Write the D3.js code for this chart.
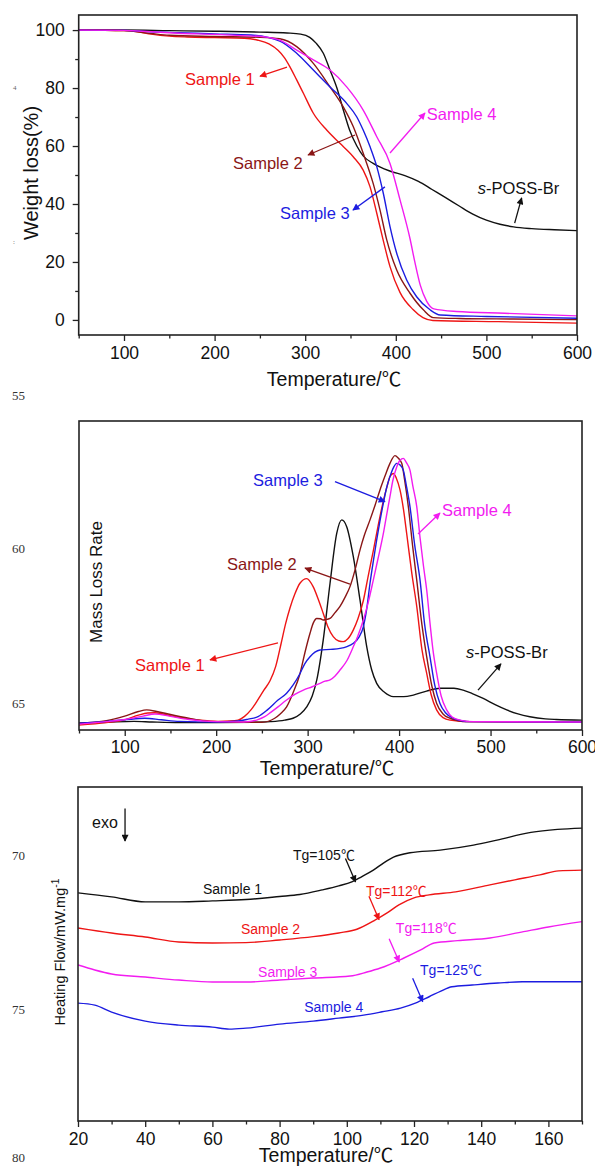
<!DOCTYPE html>
<html>
<head>
<meta charset="utf-8">
<script src="https://cdn.jsdelivr.net/npm/d3@7"></script>
<style>
  html, body { margin: 0; padding: 0; background: #fff; }
  svg { display: block; }
</style>
</head>
<body>
<svg id="fig" width="595" height="1166"></svg>
<script>
// ---------------- TGA: residual weight (%) vs temperature (°C) ----------------
const tgaPOSS = [[50,100],[100,100],[150,99.8],[200,99.6],[250,99.3],[280,99],[295,98.6],[305,97.5],[312,95.5],[320,92],[327,86.5],[335,80],[342,72.5],[349,65.5],[357,60],[364,56.6],[375,54],[394,51.3],[410,49.8],[425,47.8],[440,45],[455,42.2],[470,39.3],[485,36.5],[500,34.4],[515,33],[530,32.1],[550,31.5],[575,31.1],[600,30.8]];
const tgaS1 = [[50,100],[100,99.8],[115,99.4],[130,98.6],[150,97.9],[170,97.6],[200,97.4],[233,97.2],[248,96.5],[260,95.2],[270,93],[277,90.5],[283,87.4],[290.6,82.8],[298,78.2],[309,71.3],[323.7,65.5],[338,61],[353,56.3],[364,51.7],[371.5,46],[379,36.8],[386,27.6],[393.6,18.4],[404.6,9.5],[419,3.6],[430,0.8],[441,-0.2],[513,-0.6],[600,-1.1]];
const tgaS2 = [[50,100],[100,99.8],[130,98.8],[150,98.2],[200,97.8],[250,97.5],[272,97],[290.6,94.3],[309,88.5],[327.4,80.4],[342,73.5],[353,66.7],[364,57.5],[375,47.1],[382.6,37.9],[390,27.6],[401,17.2],[415.7,9.2],[430.4,3.5],[441.4,0.8],[470,0.5],[530,0.3],[600,0.1]];
const tgaS3 = [[50,100],[100,99.9],[130,99.4],[160,99.1],[200,98.7],[240,98.3],[272,96.2],[290.6,92],[309,86.2],[327.4,80.4],[345.8,74.7],[356.8,70.1],[364,65.5],[371.5,59.8],[379,52.9],[386.2,43.7],[393.6,32.2],[401,23],[412,13.8],[423,8],[437.8,3.5],[449,1.7],[500,1.2],[600,0.6]];
const tgaS4 = [[50,100],[100,99.9],[130,99.4],[160,98.9],[200,98.5],[230,98.1],[254,97.7],[272,96.5],[290.6,93.1],[309,89.7],[327.4,86.2],[345.8,80.4],[364,72.4],[379,63.2],[393.6,54],[404.6,41.5],[415.7,28],[421,20],[427,12],[434,6.5],[442,3.8],[467,2.9],[520,2.3],[600,1.4]];
const tgaXTicks = [100,200,300,400,500,600];
const tgaXMinor = [50,150,250,350,450,550];
const tgaYTicks = [0,20,40,60,80,100];
const tgaYMinor = [10,30,50,70,90];

// ---------------- DTG: mass loss rate (a.u.) vs temperature (°C) ----------------
const dtgPOSS = [[50,2.2],[80,2.5],[110,2.8],[130,2.6],[160,2.4],[200,2.4],[240,2.5],[259,2.7],[275,3.2],[284,3.8],[292,5.2],[299,7.5],[305,11],[310,16.2],[317,29],[324.5,47.5],[331.8,63.6],[337.3,68],[342.7,65.8],[350,56],[357.3,42],[364.6,27],[370,19.5],[375.5,15.1],[384,12.2],[393.7,10.8],[405,10.8],[415.6,11.3],[430,12.6],[445,13.5],[460,13.5],[470,12.9],[480,11.8],[492,10.2],[505,8.2],[517.7,6.5],[530,5.2],[543,4.3],[560,3.6],[572,3.4],[600,3.2]];
const dtgS1 = [[50,1.6],[80,2.4],[100,3.3],[115,4.8],[125,5.5],[133,5.6],[150,4.6],[170,3.6],[190,3],[202,2.8],[215,2.9],[224,3.2],[231,4.4],[238,6.5],[245,9.5],[252,12.8],[259,16],[265,20.5],[271,28],[276,34.5],[280.7,39.5],[286,44],[291.6,47.5],[299,49],[306,46.4],[312,42],[317,37.8],[322,33.5],[328,30.2],[334,28.8],[339,28.6],[344,29.5],[350,32.4],[355,36],[361,42],[366,49.5],[372,58.3],[377,66],[383,74.4],[387,79],[390,82],[393.7,83],[397,81.5],[401,77.7],[405,71],[408.3,63.6],[414,50.5],[419.3,40],[425,26],[430.2,18.3],[435,11.5],[441,6.5],[448,4],[455.7,3.2],[477.5,2.7],[600,2.6]];
const dtgS2 = [[50,2.2],[80,3],[100,4.5],[115,6],[124,6.5],[135,6],[150,5],[170,3.8],[194,2.7],[220,2.5],[250,2.5],[264,3.8],[270,5.2],[277,7.5],[284,12],[291.7,18.3],[297,25],[302.6,31.3],[306,34.5],[310,36.1],[314,36],[317.1,35.6],[321,35.8],[324.5,36.1],[330,38],[335.4,40],[341,43],[346.3,46.4],[352,52],[357.3,58.3],[362,63],[368.2,68],[374,73],[379.1,77.7],[385,82.5],[390,86.3],[395.5,88.8],[399,88],[402.9,86.3],[406,81],[410.1,72.3],[415,59],[419.3,48.5],[425,34],[430.2,23.7],[436,14],[441.1,8.6],[448,5.2],[455.7,3.8],[465,3],[473.9,2.7],[600,2.6]];
const dtgS3 = [[50,2.2],[80,2.8],[100,3.3],[122,3.8],[140,3.3],[160,2.8],[200,2.6],[224,2.9],[235,3.5],[245.7,4.3],[256,6.5],[267.6,9.7],[277,11.9],[284,14.5],[291.7,18.3],[297,21.5],[302.6,23.7],[308,25.2],[313.5,25.9],[325,26.1],[335.4,26.4],[343,27],[350,28.1],[356,30],[360.9,33.4],[364.5,39],[368.2,47.5],[372,55],[375.5,61.5],[379,67.5],[382.8,73.4],[386,78],[390,82],[394,85],[397.4,86.3],[401,85.8],[404.6,84.1],[408,79],[411.9,72.3],[417,60],[422.9,48.5],[428,34],[433.8,23.7],[439,14.5],[444.7,8.6],[451,5.5],[459.3,3.8],[468,3],[477.5,2.7],[600,2.6]];
const dtgS4 = [[50,1.9],[80,2.7],[100,3.4],[120,4.5],[133,5.2],[150,4.4],[170,3.4],[200,2.7],[230,2.6],[245,3.3],[253,4.3],[260,5.8],[267.6,7.5],[277,9.7],[286,11.5],[295.3,12.9],[305,14],[313.5,15.1],[319,15.8],[324.5,16.2],[330,17.5],[335.4,19.4],[343,22.5],[350,27],[355,30.5],[360.9,35.6],[366,41],[371.8,48.5],[377,55.5],[382.8,63.6],[386,69],[390,75.5],[393,80.5],[397.4,85.1],[401,87.3],[404.6,87.9],[408,86.5],[411.9,84.1],[415,79],[419.3,72.3],[423,62],[426.7,53],[430.2,45.3],[434,34],[437,26],[441.1,18.3],[446,11],[452,6.5],[458,4.2],[466.6,3.2],[481.2,2.7],[600,2.6]];

// ---------------- DSC: heat flow (a.u.) vs temperature (°C) ----------------
const dscS1 = [[20,68.3],[30,67.1],[40,65.6],[50,65.6],[60,65.9],[70,66.3],[80,67.2],[86,67.8],[92.7,69.2],[97.6,70.4],[101.5,71.6],[104.5,73.2],[107.9,75.1],[111,77.3],[113.9,79],[118.8,80.3],[127.8,81.1],[137.7,82.6],[144.7,84.1],[154.8,86.4],[162.7,87.3],[170,87.7]];
const dscS2 = [[20,57.8],[30,56.3],[40,55.1],[50,53.6],[60,53.3],[70,53.4],[80,54.2],[90,55.2],[97.6,56.3],[103,57.4],[108.5,60.2],[112,62.3],[115.5,64.7],[120,66.8],[124.5,67.7],[132.4,68.6],[142.6,70.7],[150,72.2],[157.5,73.7],[163,74.9],[170,75.1]];
const dscS3 = [[20,46.7],[25,45.2],[30,44],[40,43.1],[50,42.2],[60,41.6],[70,41.6],[80,42.2],[90,42.8],[101,43.4],[106,44.6],[110,45.8],[117,48.8],[122,51.2],[126,53.3],[133,54],[142.6,54.8],[152.6,56.7],[160,58.1],[170,59.7]];
const dscS4 = [[20,35.3],[25,34.7],[30,32.6],[40,29.9],[50,28.7],[60,28.1],[65,27.5],[70,27.8],[80,29],[90,29.9],[97.6,30.8],[105,31.7],[110.5,32.7],[116,33.8],[120.4,35.3],[124.5,37.2],[128,38.9],[131.3,40.2],[137.3,40.7],[145,41.3],[152.2,41.7],[160,41.7],[170,41.7]];
const dscXTicks = [20,40,60,80,100,120,140,160];
const dscXMinor = [30,50,70,90,110,130,150,170];
const tgValues = [105,112,118,125];
const sampleNames = ["Sample 1","Sample 2","Sample 3","Sample 4"];

// ---------------- drawing ----------------
const FONT = '"Liberation Sans", Arial, "Noto Sans CJK SC", sans-serif';
const CJK = '"Noto Sans CJK SC", "Noto Sans CJK JP", sans-serif';
const C = { s1: "#ee1515", s2: "#8a1616", s3: "#1c1ce0", s4: "#f21cf0", k: "#111111" };
const svg = d3.select("#fig");
const defs = svg.append("defs");

function arrowHead(color) {
  const id = "ah-" + color.replace("#", "");
  if (defs.select("#" + id).empty()) {
    defs.append("marker").attr("id", id)
      .attr("viewBox", "0 0 10 10").attr("refX", 9).attr("refY", 5)
      .attr("markerWidth", 8).attr("markerHeight", 7)
      .attr("markerUnits", "userSpaceOnUse").attr("orient", "auto")
      .append("path").attr("d", "M0,0 L10,5 L0,10 z").attr("fill", color);
  }
  return `url(#${id})`;
}

function valueAt(data, t) {
  const i = d3.bisector(d => d[0]).left(data, t);
  if (i <= 0) return data[0][1];
  if (i >= data.length) return data[data.length - 1][1];
  const a = data[i - 1], b = data[i];
  return a[1] + (b[1] - a[1]) * (t - a[0]) / (b[0] - a[0]);
}

// writes a string into a text element, giving the ℃ sign a CJK face
function fillText(sel, str) {
  str.split(/(℃)/).filter(s => s.length).forEach(part => {
    const ts = sel.append("tspan").text(part);
    if (part === "℃") ts.attr("font-family", CJK);
  });
}

function panel(cfg, idx) {
  const x = d3.scaleLinear().domain(cfg.xDomain).range([cfg.left, cfg.right]);
  const y = d3.scaleLinear().domain(cfg.yDomain).range([cfg.bottom, cfg.top]);
  const g = svg.append("g");

  defs.append("clipPath").attr("id", "clip" + idx)
    .append("rect").attr("x", cfg.left).attr("y", cfg.top)
    .attr("width", cfg.right - cfg.left).attr("height", cfg.bottom - cfg.top);

  const line = d3.line().x(d => x(d[0])).y(d => y(d[1])).curve(d3.curveMonotoneX);
  const curves = g.append("g").attr("clip-path", `url(#clip${idx})`);
  cfg.series.forEach(s => {
    curves.append("path").attr("d", line(s.data))
      .attr("fill", "none").attr("stroke", s.color)
      .attr("stroke-width", 1.4).attr("stroke-linejoin", "round");
  });

  // bottom axis: major + minor ticks, pointing outwards
  const xa = g.append("g").attr("transform", `translate(0,${cfg.bottom})`)
    .call(d3.axisBottom(x).tickValues(cfg.xTicks).tickSize(6).tickPadding(cfg.xPad).tickFormat(d3.format("d")));
  g.append("g").attr("transform", `translate(0,${cfg.bottom})`)
    .call(d3.axisBottom(x).tickValues(cfg.xMinor).tickSize(3.5).tickFormat(""))
    .select(".domain").remove();
  xa.select(".domain").remove();

  if (cfg.yTicks) {
    const ya = g.append("g").attr("transform", `translate(${cfg.left},0)`)
      .call(d3.axisLeft(y).tickValues(cfg.yTicks).tickSize(6).tickPadding(8).tickFormat(d3.format("d")));
    g.append("g").attr("transform", `translate(${cfg.left},0)`)
      .call(d3.axisLeft(y).tickValues(cfg.yMinor).tickSize(3.5).tickFormat(""))
      .select(".domain").remove();
    ya.select(".domain").remove();
  }

  g.selectAll(".tick line").attr("stroke", "#222").attr("stroke-width", 1.3);
  g.selectAll(".tick text").attr("font-family", FONT).attr("font-size", 17.5).attr("fill", "#111");

  // frame
  g.append("rect").attr("x", cfg.left).attr("y", cfg.top)
    .attr("width", cfg.right - cfg.left).attr("height", cfg.bottom - cfg.top)
    .attr("fill", "none").attr("stroke", "#222").attr("stroke-width", 1.6);

  // axis titles
  const xt = g.append("text").attr("x", cfg.xTitle[0]).attr("y", cfg.xTitle[1]).attr("dy", "0.35em")
    .attr("text-anchor", "middle").attr("font-family", FONT).attr("font-size", 19.5).attr("fill", "#111");
  fillText(xt, "Temperature/℃");
  const yt = g.append("text")
    .attr("transform", `translate(${cfg.yTitle[0]},${cfg.yTitle[1]}) rotate(-90)`)
    .attr("dy", "0.35em").attr("text-anchor", "middle")
    .attr("font-family", FONT).attr("font-size", cfg.yTitleSize).attr("fill", "#111");
  yt.append("tspan").text(cfg.yTitleText);
  if (cfg.yTitleSup) {
    yt.append("tspan").attr("dy", "-0.55em").attr("font-size", cfg.yTitleSize * 0.72).text(cfg.yTitleSup);
  }

  // annotations
  (cfg.notes || []).forEach(n => {
    if (n.from) {
      g.append("line")
        .attr("x1", x(n.from[0])).attr("y1", y(n.from[1]))
        .attr("x2", x(n.to[0])).attr("y2", y(n.to[1]))
        .attr("stroke", n.color).attr("stroke-width", 1.3)
        .attr("marker-end", arrowHead(n.color));
    }
    if (n.text) {
      const t = g.append("text").attr("x", x(n.at[0])).attr("y", y(n.at[1])).attr("dy", "0.35em")
        .attr("font-family", FONT).attr("font-size", n.size || cfg.noteSize).attr("fill", n.color);
      if (n.italic) {
        t.append("tspan").attr("font-style", "italic").text(n.italic);
      }
      fillText(t, n.text);
    }
  });
  return { x, y };
}

// Panel 1 — TGA
panel({
  left: 78.7, right: 577, top: 15, bottom: 335,
  xDomain: [50, 600], yDomain: [-5.2, 105.2],
  xTicks: tgaXTicks, xMinor: tgaXMinor, yTicks: tgaYTicks, yMinor: tgaYMinor, xPad: 6,
  series: [
    { data: tgaPOSS, color: C.k }, { data: tgaS1, color: C.s1 }, { data: tgaS2, color: C.s2 },
    { data: tgaS3, color: C.s3 }, { data: tgaS4, color: C.s4 }
  ],
  xTitle: [334, 379], yTitle: [31, 173], yTitleText: "Weight loss(%)", yTitleSize: 20,
  noteSize: 16.5,
  notes: [
    { text: sampleNames[0], color: C.s1, at: [167.3, 83.1], from: [279.9, 87.2], to: [250.1, 84.1] },
    { text: sampleNames[1], color: C.s2, at: [220.3, 54.2], from: [355, 63.8], to: [303.1, 56.9] },
    { text: sampleNames[2], color: C.s3, at: [272.2, 36.9], from: [388, 45.9], to: [352.7, 37.9] },
    { text: sampleNames[3], color: C.s4, at: [434.2, 71], from: [393.6, 57.6], to: [432.2, 71.4] },
    { italic: "s", text: "-POSS-Br", color: C.k, at: [490.4, 45.5], from: [531.2, 33.4], to: [538.9, 42.1] }
  ]
}, 1);

// Panel 2 — DTG
panel({
  left: 79, right: 582, top: 421, bottom: 730,
  xDomain: [50, 600], yDomain: [0, 100],
  xTicks: tgaXTicks, xMinor: tgaXMinor, xPad: 5,
  series: [
    { data: dtgPOSS, color: C.k }, { data: dtgS1, color: C.s1 }, { data: dtgS2, color: C.s2 },
    { data: dtgS3, color: C.s3 }, { data: dtgS4, color: C.s4 }
  ],
  xTitle: [327, 768], yTitle: [96, 582], yTitleText: "Mass Loss Rate", yTitleSize: 17,
  noteSize: 16.5,
  notes: [
    { text: sampleNames[2], color: C.s3, at: [240.3, 80.9], from: [329.9, 80.4], to: [384.6, 73.9] },
    { text: sampleNames[3], color: C.s4, at: [446.9, 71.2], from: [420.7, 63.4], to: [444.7, 70.2] },
    { text: sampleNames[1], color: C.s2, at: [211.8, 53.7], from: [346.3, 47.2], to: [297.1, 52.4] },
    { text: sampleNames[0], color: C.s1, at: [111.2, 21], from: [267.6, 28.2], to: [193.2, 22.7] },
    { italic: "s", text: "-POSS-Br", color: C.k, at: [473.2, 25.2], from: [486.3, 12.9], to: [511.4, 21.4] }
  ]
}, 2);

// Panel 3 — DSC
const dscSeries = [dscS1, dscS2, dscS3, dscS4];
const dscColors = [C.k, C.s1, C.s4, C.s3];
const dscLabelAt = [[57.2, 69.5], [68.5, 57.5], [73.6, 44.6], [87.3, 34.1]];
const tgLabelAt = [[84, 79.6], [105.7, 68.9], [114.6, 57.8], [121.8, 45.2]];
const dscNotes = [];
dscSeries.forEach((s, i) => {
  dscNotes.push({ text: sampleNames[i], color: dscColors[i], at: dscLabelAt[i] });
  const tipT = tgValues[i] - 2.4;
  const tipV = valueAt(s, tipT) - 0.6;
  dscNotes.push({ text: "Tg=" + tgValues[i] + "℃", color: dscColors[i], at: tgLabelAt[i],
                  from: [tipT - 3, tipV + 7], to: [tipT, tipV] });
});
dscNotes.push({ text: "exo", color: C.k, at: [24.2, 89.5], size: 16 });
dscNotes.push({ color: C.k, from: [34, 93.6], to: [34, 83.8] });

panel({
  left: 78, right: 582, top: 787, bottom: 1121,
  xDomain: [20, 170], yDomain: [0, 100],
  xTicks: dscXTicks, xMinor: dscXMinor, xPad: 6,
  series: dscSeries.map((d, i) => ({ data: d, color: dscColors[i] })),
  xTitle: [326, 1155], yTitle: [60, 952], yTitleText: "Heating Flow/mW.mg", yTitleSup: "-1", yTitleSize: 14.5,
  noteSize: 14,
  notes: dscNotes
}, 3);

// manuscript line numbers in the margin
const lineNos = [["55", 395], ["60", 548], ["65", 703], ["70", 855], ["75", 1009], ["80", 1157]];
svg.append("g").selectAll("text").data(lineNos).join("text")
  .attr("x", 12).attr("y", d => d[1]).attr("dy", "0.35em")
  .attr("font-family", '"Liberation Serif", "Times New Roman", serif').attr("font-size", 13).attr("fill", "#333")
  .text(d => d[0]);
svg.append("g").selectAll("text").data([["4", 88], [":", 242]]).join("text")
  .attr("x", 13).attr("y", d => d[1]).attr("dy", "0.35em")
  .attr("font-family", '"Liberation Serif", serif').attr("font-size", 7).attr("fill", "#666")
  .text(d => d[0]);
</script>
</body>
</html>
